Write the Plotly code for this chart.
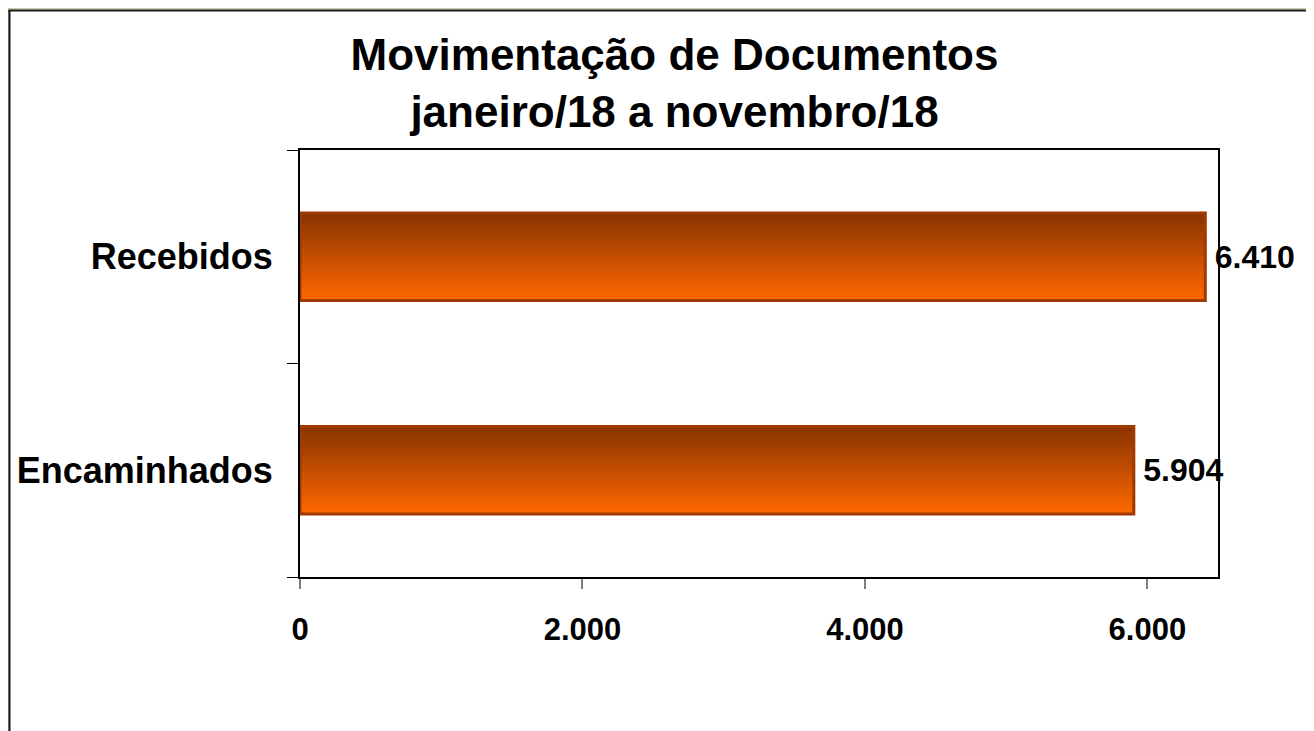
import plotly.graph_objects as go

# Data
categories = ['Encaminhados', 'Recebidos']
values = [5904, 6410]
x_ticks = [0, 2000, 4000, 6000]

TITLE = 'Movimentação de Documentos<br>janeiro/18 a novembro/18'
FONT = 'Liberation Sans, Arial, sans-serif'

# Layout geometry (pixels); page body adds an 8px margin around the figure
W, H = 1306, 723
L, R, T, B = 292, 96, 142, 154
PW, PH = W - L - R, H - T - B

BAR_WIDTH = 0.41
N_SLICES = 40
COLOR_TOP = (137, 52, 0)
COLOR_BOTTOM = (255, 104, 0)


def px_x(p):
    return (p - L) / PW


def px_y(p):
    return (H - B - p) / PH


fig = go.Figure()

# gradient: overlapping bars, each starting a bit higher, bottom orange -> top dark brown
step = BAR_WIDTH / N_SLICES
for i in range(N_SLICES):
    t = i / (N_SLICES - 1)
    c = tuple(round(b + (a - b) * t) for a, b in zip(COLOR_TOP, COLOR_BOTTOM))
    fig.add_trace(go.Bar(
        x=values, y=categories, orientation='h',
        width=BAR_WIDTH - i * step, offset=-BAR_WIDTH / 2 + i * step,
        marker=dict(color='rgb(%d,%d,%d)' % c, line=dict(width=0)),
        hoverinfo='skip', showlegend=False
    ))

# outline + value labels
fig.add_trace(go.Bar(
    x=values, y=categories, orientation='h',
    width=BAR_WIDTH, offset=-BAR_WIDTH / 2,
    marker=dict(color='rgba(0,0,0,0)', line=dict(color='#A03A00', width=3)),
    texttemplate='\u2009%{x:,d}', textposition='outside', constraintext='none',
    cliponaxis=False,
    textfont=dict(family=FONT, size=32, color='black', weight='bold'),
    showlegend=False
))

# frame on the left/top edges of the slide
shapes = [
    dict(type='rect', xref='paper', yref='paper', x0=px_x(0), x1=px_x(1),
         y0=px_y(H), y1=px_y(0), fillcolor='#B3B6A6', line=dict(width=0), layer='below'),
    dict(type='rect', xref='paper', yref='paper', x0=px_x(0), x1=px_x(W),
         y0=px_y(1.5), y1=px_y(0), fillcolor='#C6CBAA', line=dict(width=0), layer='below'),
    dict(type='line', xref='paper', yref='paper', x0=px_x(1.5), x1=px_x(1.5),
         y0=px_y(H), y1=px_y(2), line=dict(color='#1a1a1a', width=2)),
    dict(type='line', xref='paper', yref='paper', x0=px_x(0.5), x1=px_x(W),
         y0=px_y(2.5), y1=px_y(2.5), line=dict(color='#1a1a1a', width=2)),
]

fig.update_layout(
    width=W, height=H,
    margin=dict(l=L, r=R, t=T, b=B, autoexpand=False),
    barmode='overlay',
    separators=',.',
    paper_bgcolor='white',
    plot_bgcolor='white',
    font=dict(family=FONT, color='black'),
    title=dict(text='<b>' + TITLE + '</b>', x=666.5 / W, xanchor='center',
               y=1 - 62 / H, yanchor='top', yref='container',
               font=dict(family=FONT, size=44, color='black')),
    xaxis=dict(range=[0, 6500], tickvals=x_ticks, tickformat=',d',
               automargin=False, showgrid=False, zeroline=False,
               showline=True, linecolor='black', linewidth=2, mirror=True,
               ticks='outside', ticklen=10, tickcolor='#808080', tickwidth=2,
               ticklabelstandoff=14,
               tickfont=dict(family=FONT, size=31, color='black', weight='bold')),
    yaxis=dict(automargin=False, showgrid=False, zeroline=False,
               showline=True, linecolor='black', linewidth=2, mirror=True,
               tickson='boundaries', ticks='outside', ticklen=11,
               tickcolor='black', tickwidth=1,
               ticklabelstandoff=18,
               tickfont=dict(family=FONT, size=36, color='black', weight='bold')),
    shapes=shapes,
)

fig.write_html('out.html')
